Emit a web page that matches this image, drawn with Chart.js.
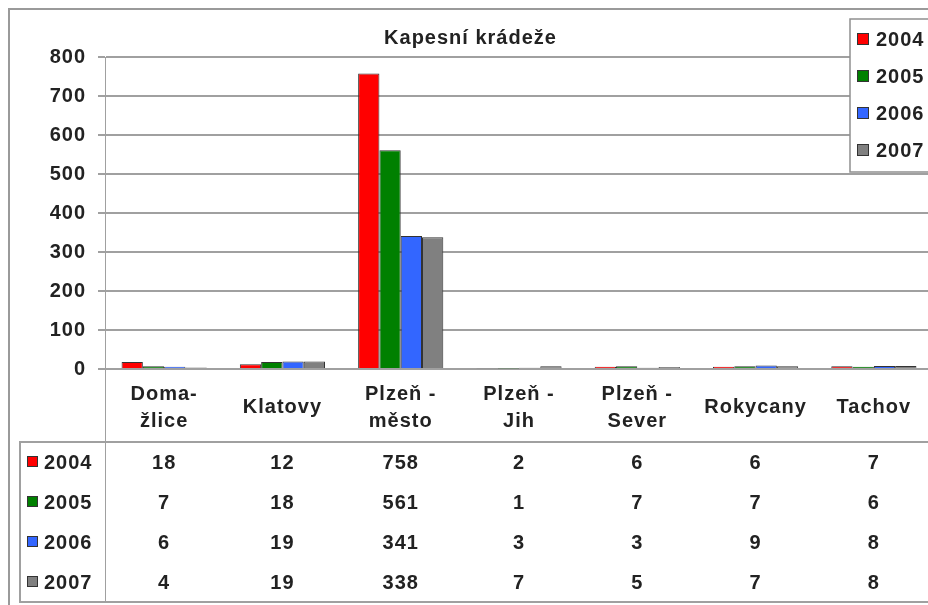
<!DOCTYPE html>
<html>
<head>
<meta charset="utf-8">
<script src="https://cdn.jsdelivr.net/npm/chart.js@4.4.0/dist/chart.umd.min.js"></script>
<style>
  html, body { margin: 0; padding: 0; background: #fff; overflow: hidden; width: 928px; height: 605px; }
  #wrap { position: absolute; left: 0; top: 0; width: 940px; height: 605px; }
</style>
</head>
<body>
<div id="wrap"><canvas id="c" width="940" height="605"></canvas></div>
<script>
// Pickpocketing cases per district and year
const chartTitle = 'Kapesní krádeže';
const districts = [['Doma-', 'žlice'], 'Klatovy', ['Plzeň -', 'město'], ['Plzeň -', 'Jih'], ['Plzeň -', 'Sever'], 'Rokycany', 'Tachov'];
const years = ['2004', '2005', '2006', '2007'];
const theft2004 = [18, 12, 758, 2, 6, 6, 7];
const theft2005 = [7, 18, 561, 1, 7, 7, 6];
const theft2006 = [6, 19, 341, 3, 3, 9, 8];
const theft2007 = [4, 19, 338, 7, 5, 7, 8];
const yTickValues = [0, 100, 200, 300, 400, 500, 600, 700, 800];

const seriesValues = [theft2004, theft2005, theft2006, theft2007];
const seriesColors = ['#ff0000', '#008000', '#3366ff', '#808080'];

const FONT_FAMILY = "'Liberation Sans', Arial, sans-serif";
const TEXT_COLOR = '#222';
const LINE_COLOR = '#a0a0a0';
const SPACING = '1px';

// Excel-style frame, legend and data table under the category axis
const frameAndTable = {
  id: 'frameAndTable',
  beforeUpdate(chart) { chart.ctx.letterSpacing = SPACING; },
  beforeDraw(chart) {
    const ctx = chart.ctx;
    ctx.letterSpacing = SPACING;
    ctx.save();
    ctx.fillStyle = '#fff';
    ctx.fillRect(0, 0, chart.width, chart.height);
    ctx.restore();
  },
  afterDraw(chart) {
    const ctx = chart.ctx;
    const x = chart.scales.x;
    const area = chart.chartArea;
    const W = chart.width;
    ctx.save();
    ctx.letterSpacing = SPACING;

    // outer chart frame
    ctx.strokeStyle = '#9a9a9a';
    ctx.lineWidth = 2;
    ctx.beginPath();
    ctx.moveTo(9, chart.height + 2);
    ctx.lineTo(9, 9);
    ctx.lineTo(W + 2, 9);
    ctx.stroke();

    // data table grid
    const tableTop = 442, tableBottom = 602, tableLeft = 20;
    const rowH = (tableBottom - tableTop) / years.length;
    ctx.strokeStyle = LINE_COLOR;
    ctx.lineWidth = 2;
    ctx.beginPath();
    ctx.moveTo(tableLeft, tableTop); ctx.lineTo(W + 2, tableTop);
    ctx.moveTo(tableLeft, tableBottom); ctx.lineTo(W + 2, tableBottom);
    ctx.moveTo(tableLeft, tableTop - 1); ctx.lineTo(tableLeft, tableBottom + 1);
    ctx.stroke();
    ctx.lineWidth = 1;
    ctx.beginPath();
    ctx.moveTo(area.left + 0.5, area.bottom); ctx.lineTo(area.left + 0.5, tableBottom);
    ctx.stroke();

    ctx.font = 'bold 20px ' + FONT_FAMILY;
    ctx.textBaseline = 'middle';
    years.forEach((yr, r) => {
      const cy = tableTop + rowH * (r + 0.5);
      // series key
      ctx.fillStyle = seriesColors[r];
      ctx.fillRect(27, cy - 6, 11, 11);
      ctx.strokeStyle = '#333';
      ctx.lineWidth = 1;
      ctx.strokeRect(27.5, cy - 5.5, 10, 10);
      ctx.fillStyle = TEXT_COLOR;
      ctx.textAlign = 'left';
      ctx.fillText(yr, 44, cy + 1);
      // values
      ctx.textAlign = 'center';
      seriesValues[r].forEach((v, i) => {
        ctx.fillText(String(v), x.getPixelForValue(i), cy + 1);
      });
    });

    // legend
    const lgLeft = 850, lgTop = 19, lgBottom = 172;
    ctx.fillStyle = '#fff';
    ctx.fillRect(lgLeft, lgTop, W - lgLeft + 2, lgBottom - lgTop);
    ctx.strokeStyle = '#909090';
    ctx.lineWidth = 1.5;
    ctx.beginPath();
    ctx.moveTo(W + 2, lgTop); ctx.lineTo(lgLeft, lgTop); ctx.lineTo(lgLeft, lgBottom); ctx.lineTo(W + 2, lgBottom);
    ctx.stroke();
    years.forEach((yr, r) => {
      const cy = 39 + r * 37;
      ctx.fillStyle = seriesColors[r];
      ctx.fillRect(857, cy - 6, 12, 12);
      ctx.strokeStyle = '#333';
      ctx.lineWidth = 1;
      ctx.strokeRect(857.5, cy - 5.5, 11, 11);
      ctx.fillStyle = TEXT_COLOR;
      ctx.textAlign = 'left';
      ctx.fillText(yr, 876, cy + 1);
    });
    ctx.restore();
  }
};

const tickFont = { family: FONT_FAMILY, size: 20, weight: 'bold' };

new Chart(document.getElementById('c'), {
  type: 'bar',
  data: {
    labels: districts,
    datasets: years.map((yr, i) => ({
      label: yr,
      data: seriesValues[i],
      backgroundColor: seriesColors[i],
      borderColor: '#333',
      borderWidth: 1,
      categoryPercentage: 0.72,
      barPercentage: 1.0
    }))
  },
  options: {
    responsive: false,
    animation: false,
    devicePixelRatio: 1,
    layout: { padding: { left: 8, right: 7, top: 10, bottom: 0 } },
    plugins: {
      legend: { display: false },
      tooltip: { enabled: false },
      title: {
        display: true,
        text: chartTitle,
        color: TEXT_COLOR,
        font: { family: FONT_FAMILY, size: 20, weight: 'bold', lineHeight: 1.2 },
        padding: { top: 16, bottom: 7 }
      }
    },
    scales: {
      x: {
        grid: { display: false },
        border: { display: true, color: LINE_COLOR, width: 2 },
        ticks: {
          color: TEXT_COLOR,
          font: Object.assign({ lineHeight: '27px' }, tickFont),
          maxRotation: 0,
          autoSkip: false,
          crossAlign: 'center',
          padding: 17
        },
        afterFit(scale) { scale.height = 236; }
      },
      y: {
        min: 0,
        max: 800,
        afterBuildTicks(scale) { scale.ticks = yTickValues.map(v => ({ value: v })); },
        grid: { color: LINE_COLOR, lineWidth: 2, tickLength: 7 },
        border: { display: true, color: LINE_COLOR, width: 1 },
        ticks: { color: TEXT_COLOR, font: tickFont, padding: 12 },
        afterFit(scale) { scale.width = 97; }
      }
    }
  },
  plugins: [frameAndTable]
});
</script>
</body>
</html>
